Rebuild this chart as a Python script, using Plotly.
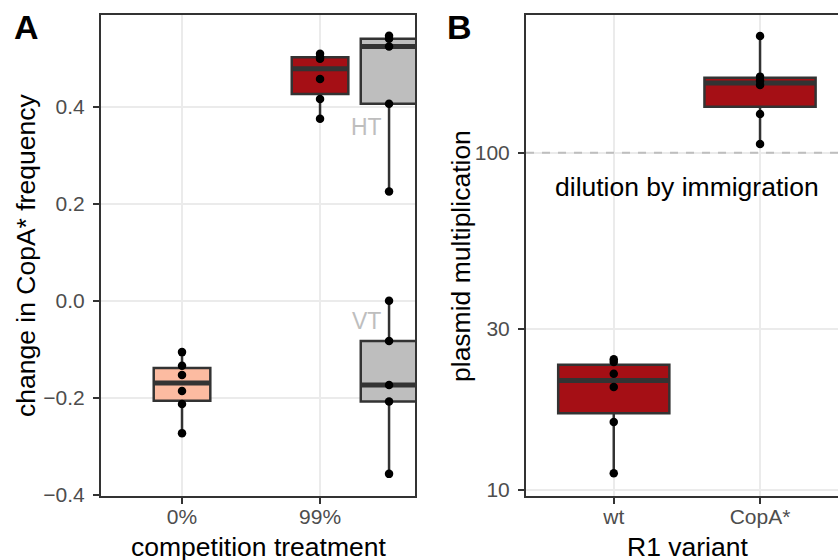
import numpy as np
import plotly.graph_objects as go

# ---------------- data ----------------
# Panel A: change in CopA* frequency
a_categories = ["0%", "99%"]
a_positions = [1, 2]
a_0pct = [-0.106, -0.134, -0.153, -0.186, -0.213, -0.273]
a_99pct = [0.375, 0.416, 0.457, 0.499, 0.503, 0.509]
a_HT = [0.225, 0.406, 0.524, 0.540, 0.546]
a_VT = [-0.357, -0.208, -0.174, -0.083, 0.0]
a_ref_pos = 2.5
a_yticks = [-0.4, -0.2, 0.0, 0.2, 0.4]
a_yticktext = ["\u22120.4", "\u22120.2", "0.0", "0.2", "0.4"]

# Panel B: plasmid multiplication
b_categories = ["wt", "CopA*"]
b_positions = [1, 2]
b_wt = [24.4, 23.97, 22.1, 20.2, 15.9, 11.2]
b_copa = [221.8, 168.0, 163.2, 158.8, 130.2, 106.1]
b_yticks = [10, 30, 100]
b_yticktext = ["10", "30", "100"]
b_dilution = 100

# ---------------- style ----------------
W, H = 838, 560
H_FIG = 570
FONT = "Liberation Sans, Arial, Helvetica, sans-serif"
RED = "#A50F15"
SALMON = "#FCBBA1"
GREY = "#BEBEBE"
EDGE = "#333333"


def box_stats(vals, log=False):
    v = np.array(vals, dtype=float)
    if log:
        v = np.log10(v)
    q1, med, q3 = np.percentile(v, [25, 50, 75])
    iqr = q3 - q1
    lo = v[v >= q1 - 1.5 * iqr].min()
    hi = v[v <= q3 + 1.5 * iqr].max()
    out = [q1, med, q3, lo, hi]
    if log:
        out = [10 ** o for o in out]
    return out


fig = go.Figure()


def add_box(vals, pos, width, fill, xa, ya, log=False):
    q1, med, q3, lo, hi = box_stats(vals, log)
    fig.add_trace(go.Box(
        x=[pos], q1=[q1], median=[med], q3=[q3], lowerfence=[lo], upperfence=[hi],
        orientation="v", width=width, fillcolor=fill, whiskerwidth=0,
        line=dict(color=EDGE, width=2.5), boxpoints=False, showlegend=False,
        hoverinfo="skip", xaxis=xa, yaxis=ya))
    fig.add_trace(go.Scatter(
        x=[pos - width / 2, pos + width / 2], y=[med, med], mode="lines",
        line=dict(color=EDGE, width=5), showlegend=False, hoverinfo="skip",
        xaxis=xa, yaxis=ya))
    fig.add_trace(go.Scatter(
        x=[pos] * len(vals), y=vals, mode="markers",
        marker=dict(color="black", size=8.5), showlegend=False,
        xaxis=xa, yaxis=ya))


add_box(a_0pct, a_positions[0], 0.41, SALMON, "x", "y")
add_box(a_99pct, a_positions[1], 0.41, RED, "x", "y")
add_box(a_HT, a_ref_pos, 0.41, GREY, "x", "y")
add_box(a_VT, a_ref_pos, 0.41, GREY, "x", "y")

# dashed reference line in panel B
B_XRANGE = [0.4, 2.533]
fig.add_trace(go.Scatter(
    x=B_XRANGE, y=[b_dilution, b_dilution], mode="lines",
    line=dict(color=GREY, width=2, dash="8px,8px"), showlegend=False,
    hoverinfo="skip", xaxis="x2", yaxis="y2"))

add_box(b_wt, b_positions[0], 0.76, RED, "x2", "y2", log=True)
add_box(b_copa, b_positions[1], 0.76, RED, "x2", "y2", log=True)

axis_common = dict(
    showline=True, linecolor=EDGE, linewidth=2, ticks="outside", ticklen=6,
    tickwidth=2, tickcolor=EDGE, gridcolor="#EBEBEB", gridwidth=1.8,
    zeroline=False, showgrid=True,
    tickfont=dict(family=FONT, size=21, color="#4D4D4D"))

ydom = [1 - 495.7 / H, 1 - 15 / H]
fig.update_layout(
    width=W, height=H_FIG, margin=dict(l=0, r=0, t=0, b=0),
    paper_bgcolor="white", plot_bgcolor="white", showlegend=False,
    xaxis=dict(domain=[101 / W, 415 / W], anchor="y", range=[0.413, 2.688],
               tickvals=a_positions, ticktext=a_categories, mirror=True,
               ticklabelstandoff=-5, **axis_common),
    yaxis=dict(domain=ydom, anchor="x", range=[-0.402, 0.589],
               tickvals=a_yticks, ticktext=a_yticktext, mirror=True,
               ticklabelstandoff=4, **axis_common),
    xaxis2=dict(domain=[526 / W, 1.0], anchor="y2", range=B_XRANGE,
                tickvals=b_positions, ticktext=b_categories, mirror=True,
                ticklabelstandoff=-5, **axis_common),
    yaxis2=dict(domain=ydom, anchor="x2", type="log", range=[0.983, 2.408],
                tickvals=b_yticks, ticktext=b_yticktext, mirror=False,
                ticklabelstandoff=4, **axis_common),
)

ann = []
title_font = dict(family=FONT, size=26.5, color="black")
# panel tags
ann.append(dict(text="<b>A</b>", x=12 / W, y=1 - 27 / H, xref="paper", yref="paper",
                xanchor="left", yanchor="middle", showarrow=False,
                font=dict(family=FONT, size=34, color="black")))
ann.append(dict(text="<b>B</b>", x=445 / W, y=1 - 27 / H, xref="paper", yref="paper",
                xanchor="left", yanchor="middle", showarrow=False,
                font=dict(family=FONT, size=34, color="black")))
# axis titles
ann.append(dict(text="change in CopA* frequency", x=26 / W, y=1 - 256 / H,
                xref="paper", yref="paper", textangle=-90, xanchor="center",
                yanchor="middle", showarrow=False, font=title_font))
ann.append(dict(text="plasmid multiplication", x=461 / W, y=1 - 256 / H,
                xref="paper", yref="paper", textangle=-90, xanchor="center",
                yanchor="middle", showarrow=False, font=title_font))
ann.append(dict(text="competition treatment", x=258 / W, y=1 - 547 / H,
                xref="paper", yref="paper", xanchor="center", yanchor="middle",
                showarrow=False, font=title_font))
ann.append(dict(text="R1 variant", x=687 / W, y=1 - 547 / H,
                xref="paper", yref="paper", xanchor="center", yanchor="middle",
                showarrow=False, font=title_font))
# in-panel labels
ann.append(dict(text="HT", x=2.338, y=0.359, xref="x", yref="y", showarrow=False,
                xanchor="center", yanchor="middle",
                font=dict(family=FONT, size=23, color=GREY)))
ann.append(dict(text="VT", x=2.338, y=-0.042, xref="x", yref="y", showarrow=False,
                xanchor="center", yanchor="middle",
                font=dict(family=FONT, size=23, color=GREY)))
ann.append(dict(text="dilution by immigration", x=1.5, y=np.log10(79.3),
                xref="x2", yref="y2", showarrow=False, xanchor="center",
                yanchor="middle", font=dict(family=FONT, size=26.5, color="black")))
fig.update_layout(annotations=ann)

fig.write_html(
    "out.html",
    config={"displayModeBar": False},
    post_script="document.body.style.margin='0';document.body.style.padding='0';"
                "document.documentElement.style.overflow='hidden';"
                "document.body.style.overflow='hidden';")
